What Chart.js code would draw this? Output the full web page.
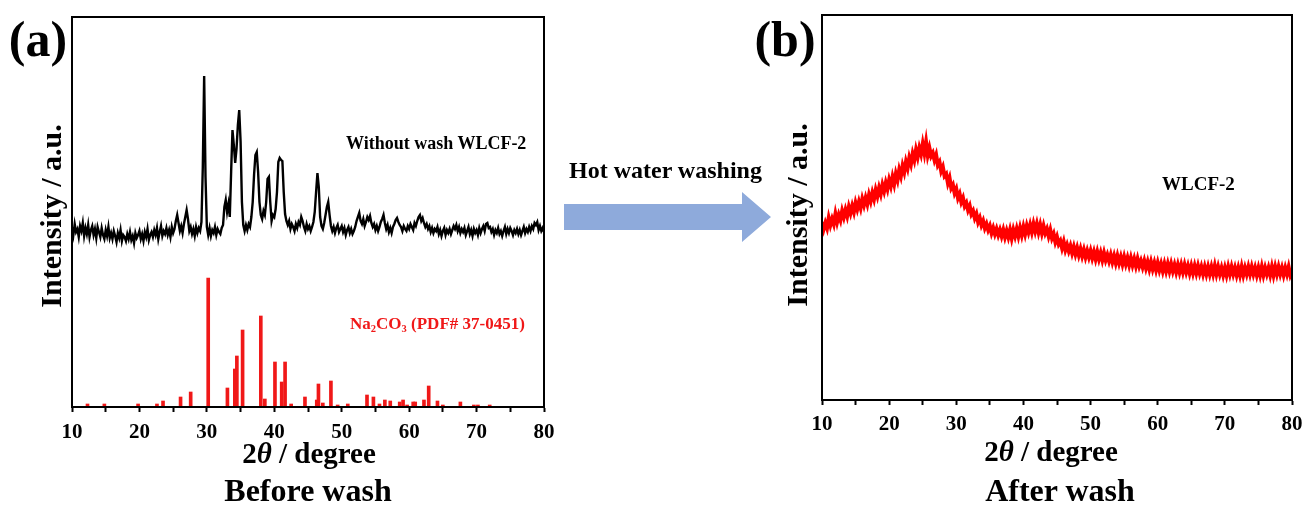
<!DOCTYPE html>
<html>
<head>
<meta charset="utf-8">
<script src="https://cdn.jsdelivr.net/npm/chart.js@4"></script>
<style>
  body { margin: 0; background: #fff; width: 1308px; height: 507px; position: relative; overflow: hidden;
         font-family: "Liberation Serif", "Times New Roman", serif; font-weight: bold; color: #000; }
  #before { position: absolute; left: 0; top: 0; }
  #after { position: absolute; left: 700px; top: 0; }
  .t { position: absolute; white-space: nowrap; line-height: 1; transform: translate(-50%, -50%); }
  .l { position: absolute; white-space: nowrap; line-height: 1; transform: translateY(-50%); }
  .rot { transform: translate(-50%, -50%) rotate(-90deg); }
  sub { font-size: 0.62em; vertical-align: -0.3em; line-height: 0; }
</style>
</head>
<body>
<canvas id="before" width="566" height="507"></canvas>
<canvas id="after" width="614" height="507"></canvas>

<div class="t" style="left:38px;top:39px;font-size:50px">(a)</div>
<div class="t" style="left:785px;top:39px;font-size:50px">(b)</div>

<div class="t rot" style="left:51px;top:216px;font-size:30px">Intensity / a.u.</div>
<div class="t rot" style="left:797px;top:215px;font-size:30px">Intensity / a.u.</div>

<div class="t" style="left:309px;top:453px;font-size:29px">2<i>θ</i> / degree</div>
<div class="t" style="left:1051px;top:451px;font-size:29px">2<i>θ</i> / degree</div>

<div class="t" style="left:308px;top:490px;font-size:32px">Before wash</div>
<div class="t" style="left:1060px;top:490px;font-size:32px">After wash</div>

<div class="l" style="left:346px;top:143px;font-size:18px">Without wash WLCF-2</div>
<div class="l" style="left:350px;top:323px;font-size:17px;color:#f01818">Na<sub>2</sub>CO<sub>3</sub> (PDF# 37-0451)</div>
<div class="l" style="left:1162px;top:183px;font-size:19px">WLCF-2</div>

<div class="l" style="left:569px;top:170px;font-size:24px">Hot water washing</div>
<svg style="position:absolute;left:560px;top:185px" width="220" height="65">
  <polygon points="4,19 182,19 182,7 211,32 182,57 182,45 4,45" fill="#8eaadb"/>
</svg>

<script>
// sample without wash, 10-80 deg every 0.2 deg
const blackStart = 10, blackStep = 0.2;
const blackCounts = [
  180, 172, 183, 175, 178, 170, 181, 176, 184, 171,
  179, 173, 182, 170, 177, 181, 172, 178, 169, 180,
  175, 170, 179, 172, 168, 177, 171, 180, 169, 174,
  168, 176, 171, 165, 174, 169, 177, 166, 172, 170,
  166, 173, 168, 175, 167, 171, 164, 174, 169, 172,
  176, 168, 173, 166, 175, 170, 178, 167, 172, 175,
  170, 177, 172, 179, 168, 175, 181, 171, 176, 173,
  179, 172, 177, 170, 180, 174, 178, 186, 192, 184,
  176, 181, 174, 183, 190, 197, 188, 176, 180, 173,
  178, 171, 180, 174, 179, 176, 185, 240, 331, 230,
  180, 172, 179, 171, 177, 174, 180, 172, 178, 175,
  173, 179, 182, 200, 207, 195, 203, 190, 235, 277,
  262, 244, 258, 282, 297, 266, 205, 182, 176, 182,
  177, 183, 180, 190, 205, 232, 252, 255, 235, 205,
  192, 188, 196, 192, 205, 228, 230, 205, 186, 192,
  190, 198, 215, 245, 249, 247, 246, 215, 193, 186,
  182, 186, 178, 183, 180, 176, 183, 179, 185, 182,
  190, 186, 180, 176, 183, 178, 181, 176, 180, 185,
  195, 215, 234, 220, 190, 181, 178, 184, 192, 200,
  205, 192, 181, 176, 180, 174, 179, 182, 175, 178,
  181, 175, 179, 172, 177, 180, 174, 178, 173, 176,
  180, 186, 190, 194, 186, 183, 188, 181, 185, 190,
  187, 191, 184, 180, 183, 177, 181, 176, 180, 185,
  188, 192, 184, 178, 182, 175, 179, 174, 180, 183,
  187, 189, 185, 182, 180, 176, 181, 178, 176, 181,
  178, 183, 180, 177, 184, 181, 186, 190, 192, 186,
  189, 184, 180, 183, 178, 181, 175, 179, 174, 178,
  176, 180, 173, 177, 171, 176, 179, 172, 177, 174,
  178, 173, 177, 181, 178, 182, 176, 180, 174, 178,
  175, 179, 172, 176, 180, 173, 177, 171, 178, 174,
  177, 172, 179, 174, 178, 181, 176, 183, 184, 179,
  180, 175, 178, 172, 177, 174, 179, 173, 176, 171,
  176, 180, 173, 178, 174, 179, 176, 172, 177, 174,
  178, 173, 177, 172, 176, 180, 174, 178, 175, 180,
  176, 181, 178, 184, 182, 185, 177, 181, 176, 179,
  175
];

// Na2CO3 reference lines (PDF# 37-0451)
const stickPos = [12.3, 14.8, 19.8, 22.6, 23.5, 26.1, 27.6, 30.2, 33.05, 34.15,
                  34.45, 35.3, 38.0, 38.6, 40.1, 41.1, 41.6, 42.5, 44.55, 46.3,
                  46.55, 47.2, 48.4, 49.4, 50.9, 53.75, 54.7, 55.6, 56.4, 57.2,
                  58.6, 59.1, 59.7, 60.6, 60.9, 62.2, 62.9, 64.2, 65.0, 67.6,
                  69.6, 70.2, 71.95];
const stickHeight = [3, 3, 3, 3, 6, 10, 15, 129, 19, 38,
                     51, 77, 91, 8, 45, 25, 45, 3, 10, 7,
                     23, 4, 26, 2, 3, 12, 10, 3, 7, 6,
                     5, 7, 2, 5, 5, 7, 21, 6, 2, 5,
                     2, 2, 2];

// washed sample, 10-80 deg every 0.25 deg
const washedStart = 10, washedStep = 0.25;
const washedCounts = [
  178, 171, 177, 172,  182, 175, 181, 176,  186, 178, 185, 180,  189, 183, 190, 184,
  193, 187, 194, 188,  197, 191, 198, 192,  201, 195, 202, 196,  205, 199, 207, 201,
  210, 204, 212, 206,  215, 209, 217, 211,  220, 214, 223, 216,  226, 220, 230, 224,
  234, 228, 238, 232,  242, 236, 246, 240,  250, 243, 252, 246,  256, 247, 258, 245,
  252, 244, 247, 240,  245, 235, 238, 229,  233, 224, 226, 217,  222, 212, 215, 207,
  211, 202, 206, 198,  202, 194, 197, 190,  194, 186, 189, 182,  186, 178, 182, 175,
  179, 172, 176, 170,  174, 167, 172, 166,  171, 165, 170, 164,  170, 163, 169, 163,
  170, 162, 170, 164,  171, 164, 172, 165,  173, 166, 174, 168,  175, 168, 176, 169,
  176, 168, 175, 167,  174, 167, 171, 164,  170, 162, 166, 158,  163, 156, 159, 152,
  158, 150, 155, 149,  154, 147, 153, 146,  152, 145, 151, 144,  150, 143, 149, 143,
  149, 142, 148, 141,  148, 141, 147, 140,  147, 140, 145, 139,  145, 138, 144, 137,
  144, 137, 143, 136,  143, 136, 142, 135,  142, 135, 141, 134,  141, 134, 139, 133,
  139, 132, 138, 131,  138, 131, 137, 130,  137, 130, 136, 129,  136, 129, 136, 129,
  136, 129, 135, 128,  135, 128, 135, 128,  135, 128, 134, 127,  134, 127, 134, 127,
  134, 127, 133, 126,  133, 126, 133, 126,  133, 126, 134, 126,  133, 126, 132, 125,
  132, 125, 133, 126,  133, 126, 132, 125,  132, 125, 133, 125,  132, 126, 133, 126,
  133, 126, 132, 125,  132, 125, 133, 125,  132, 126, 132, 125,  133, 125, 133, 126,
  133, 126, 132, 125,  132, 126, 133, 125,
  129
];

function series(start, step, vals) {
  return vals.map((v, i) => ({ x: +(start + i * step).toFixed(2), y: v }));
}

// draws the closed box around the plot
const frame = {
  id: 'frame',
  afterDatasetsDraw(chart) {
    const { ctx, chartArea: a } = chart;
    ctx.save();
    ctx.strokeStyle = '#000';
    ctx.lineWidth = 2;
    ctx.strokeRect(a.left, a.top, a.right - a.left, a.bottom - a.top);
    ctx.restore();
  }
};

function makeChart(id, datasets, yMax, pad, tickPad) {
  return new Chart(document.getElementById(id), {
    type: 'line',
    data: { datasets: datasets },
    options: {
      responsive: false,
      animation: false,
      layout: { padding: pad },
      plugins: { legend: { display: false }, tooltip: { enabled: false } },
      scales: {
        x: {
          type: 'linear', min: 10, max: 80, offset: false,
          ticks: {
            stepSize: 5, autoSkip: false, maxRotation: 0, padding: tickPad, color: '#000',
            font: { family: 'Liberation Serif', weight: 'bold', size: 21 },
            callback: v => (v % 10 === 0 ? v : '')
          },
          grid: { drawOnChartArea: false, drawTicks: true, tickLength: 5, tickWidth: 2, tickColor: '#000', offset: false },
          border: { display: true, color: '#000', width: 2 },
          afterFit: s => { s.height = 40; }
        },
        y: {
          min: 0, max: yMax,
          ticks: { display: false },
          grid: { display: false },
          border: { display: true, color: '#000', width: 2 },
          afterFit: s => { s.width = 0; }
        }
      }
    },
    plugins: [frame]
  });
}

makeChart('before', [
  {
    type: 'line',
    data: series(blackStart, blackStep, blackCounts),
    borderColor: '#000', borderWidth: 2.4, pointRadius: 0, tension: 0
  },
  {
    type: 'bar',
    data: stickPos.map((p, i) => ({ x: p, y: stickHeight[i] })),
    backgroundColor: '#f01818', barThickness: 3
  }
], 390, { left: 72, top: 17, right: 22, bottom: 60 }, 8);

makeChart('after', [
  {
    type: 'line',
    data: series(washedStart, washedStep, washedCounts),
    borderColor: '#ff0000', borderWidth: 4, pointRadius: 0, tension: 0
  }
], 385, { left: 122, top: 15, right: 22, bottom: 67 }, 7);
</script>
</body>
</html>
